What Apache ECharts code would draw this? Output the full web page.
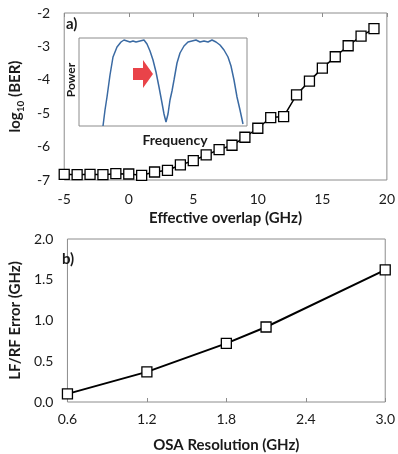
<!DOCTYPE html>
<html><head><meta charset="utf-8">
<script src="https://cdn.jsdelivr.net/npm/echarts@6/dist/echarts.min.js"></script>
<style>html,body{margin:0;padding:0;background:#fff}#c{width:398px;height:454px}</style>
</head><body><div id="c"></div>
<script>
// Panel a) data
var overlapGHz = [-5,-4,-3,-2,-1,0,1,2,3,4,5,6,7,8,9,10,11,12,13,14,15,16,17,18,19];
var log10BER = [-6.83,-6.84,-6.83,-6.84,-6.81,-6.82,-6.86,-6.76,-6.71,-6.55,-6.42,-6.25,-6.09,-5.96,-5.72,-5.45,-5.13,-5.10,-4.45,-4.04,-3.65,-3.31,-2.98,-2.69,-2.47];
// Inset spectrum (arbitrary units)
var specFreq = [24,26,28,31,34,38,42,45,48,51,54,57,61,65,68,71,74,77,80,83,85,87,89,91,93,95,98,101,105,109,113,117,121,125,129,133,137,141,145,149,152,155,158,161,164];
var specPower = [0,16,29,51,69,79,84,86,85,84,85,84,85,86,82,75,66,54,39,23,12,4,12,26,35,46,63,73,80,84,85,86,84,85,84,86,84,81,76,69,60,46,29,16,2];
// Panel b) data
var osaRes = [0.6,1.2,1.8,2.1,3.0];
var lfrfErr = [0.10,0.37,0.72,0.92,1.62];

var FONT = 'Lato';
var TXT = '#1a1a1a';
var GRAY = '#8c8c8c';
function pairs(a,b){return a.map(function(v,i){return [v,b[i]];});}

var chart = echarts.init(document.getElementById('c'), null, {renderer:'canvas'});
var arrowPath = 'path://M0,8 L10,8 L10,0 L20,14 L10,28 L10,20 L0,20 Z';
chart.setOption({
  animation:false,
  textStyle:{fontFamily:FONT,color:TXT},
  grid:[
    {left:61,right:8,top:13,bottom:274,show:true,borderColor:GRAY,borderWidth:1},
    {left:58,right:12,top:239,bottom:50,show:true,borderColor:GRAY,borderWidth:1},
    {left:79,top:38,width:168,height:88,show:true,borderColor:GRAY,borderWidth:1,z:3}
  ],
  xAxis:[
    {gridIndex:0,type:'value',min:-5,max:20,interval:5,
     axisLine:{show:false},axisTick:{show:false},splitLine:{show:false},
     axisLabel:{fontSize:14,color:TXT,margin:12,fontFamily:FONT},
     name:'Effective overlap (GHz)',nameLocation:'middle',nameGap:31,
     nameTextStyle:{fontSize:15,fontWeight:'bold',color:TXT,fontFamily:FONT}},
    {gridIndex:0,type:'value',position:'top',min:-5,max:20,interval:5,
     axisLine:{show:false},axisTick:{show:true,inside:true,length:4,lineStyle:{color:GRAY}},
     axisLabel:{show:false},splitLine:{show:false}},
    {gridIndex:1,type:'value',min:0.6,max:3.0,interval:0.6,
     axisLine:{show:false},axisTick:{show:true,inside:true,length:4,lineStyle:{color:GRAY}},splitLine:{show:false},
     axisLabel:{fontSize:14,color:TXT,margin:10,fontFamily:FONT,formatter:function(v){return v.toFixed(1);}},
     name:'OSA Resolution (GHz)',nameLocation:'middle',nameGap:36,
     nameTextStyle:{fontSize:15,fontWeight:'bold',color:TXT,fontFamily:FONT}},
    {gridIndex:2,type:'value',min:0,max:168,show:false,splitLine:{show:false}}
  ],
  yAxis:[
    {gridIndex:0,type:'value',min:-7,max:-2,interval:1,
     axisLine:{show:false},axisTick:{show:false},splitLine:{show:false},
     axisLabel:{fontSize:14,color:TXT,margin:14,fontFamily:FONT},
     name:'{a|log}{s|10}{a| (BER)}',nameLocation:'middle',nameGap:38,
     nameTextStyle:{color:TXT,rich:{
       a:{fontSize:15,fontWeight:'bold',fontFamily:FONT,color:TXT,verticalAlign:'top',lineHeight:18},
       s:{fontSize:10,fontWeight:'bold',fontFamily:FONT,color:TXT,verticalAlign:'bottom',lineHeight:12}}}},
    {gridIndex:1,type:'value',min:0,max:2,interval:0.5,
     axisLine:{show:false},axisTick:{show:false},splitLine:{show:false},
     axisLabel:{fontSize:14,color:TXT,margin:14,fontFamily:FONT,formatter:function(v){return v.toFixed(1);}},
     name:'LF/RF Error (GHz)',nameLocation:'middle',nameGap:38,
     nameTextStyle:{fontSize:15,fontWeight:'bold',color:TXT,fontFamily:FONT}},
    {gridIndex:2,type:'value',min:0,max:88,show:false,splitLine:{show:false}}
  ],
  series:[
    {type:'line',xAxisIndex:3,yAxisIndex:2,data:pairs(specFreq,specPower),showSymbol:false,symbol:'none',
     lineStyle:{color:'#3a6aa3',width:1.5},clip:true,z:4},
    {type:'scatter',xAxisIndex:3,yAxisIndex:2,data:[[64,52]],symbol:arrowPath,symbolSize:[20,28],
     itemStyle:{color:'#e3141b'},z:5},
    {type:'line',xAxisIndex:0,yAxisIndex:0,data:pairs(overlapGHz,log10BER),symbol:'rect',symbolSize:10,
     lineStyle:{color:'#000',width:1.5},itemStyle:{color:'#fff',borderColor:'#000',borderWidth:1.3},z:6},
    {type:'line',xAxisIndex:2,yAxisIndex:1,data:pairs(osaRes,lfrfErr),symbol:'rect',symbolSize:10,
     lineStyle:{color:'#000',width:2},itemStyle:{color:'#fff',borderColor:'#000',borderWidth:1.3},z:6}
  ],
  graphic:[
    {type:'text',left:66,top:17,style:{text:'a)',fontSize:15,fontWeight:'bold',fontFamily:FONT,fill:TXT}},
    {type:'text',left:62,top:252,style:{text:'b)',fontSize:15,fontWeight:'bold',fontFamily:FONT,fill:TXT}},
    {type:'text',x:71,y:80,rotation:Math.PI/2,style:{text:'Power',fontSize:12,fontWeight:'bold',fontFamily:FONT,fill:TXT,align:'center',verticalAlign:'middle'}},
    {type:'text',x:175,y:140,style:{text:'Frequency',fontSize:14,fontWeight:'bold',fontFamily:FONT,fill:TXT,align:'center',verticalAlign:'middle'}}
  ]
});
</script></body></html>
